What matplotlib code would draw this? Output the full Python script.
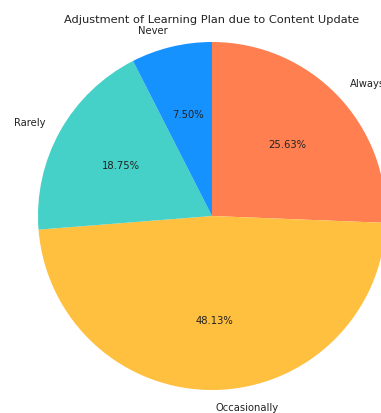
import matplotlib
matplotlib.use("Agg")
import matplotlib.pyplot as plt

categories = ["Always", "Occasionally", "Rarely", "Never"]
shares = [25.63, 48.13, 18.75, 7.50]
colors = ["#FF7F50", "#FFBF3F", "#45D0C8", "#1692FF"]

W, H = 381, 414
fig = plt.figure(figsize=(W / 100, H / 100), dpi=100)

# pie of radius 1 inside limits of +/-1.25; place it so its radius is ~174 px
r_px = 174
cx, cy = 212, H - 217
side = 2.5 * r_px
ax = fig.add_axes([(cx - side / 2) / W, (cy - side / 2) / H, side / W, side / H])

ax.pie(shares, labels=categories, colors=colors, autopct="%1.2f%%",
       startangle=90, counterclock=False,
       textprops={"fontsize": 7.2, "color": "#222222"})
ax.set_aspect("equal")

fig.text(cx / W, (H - 20) / H, "Adjustment of Learning Plan due to Content Update",
         ha="center", va="center", fontsize=8.2, color="#222222")

fig.savefig("out.png", dpi=100)
